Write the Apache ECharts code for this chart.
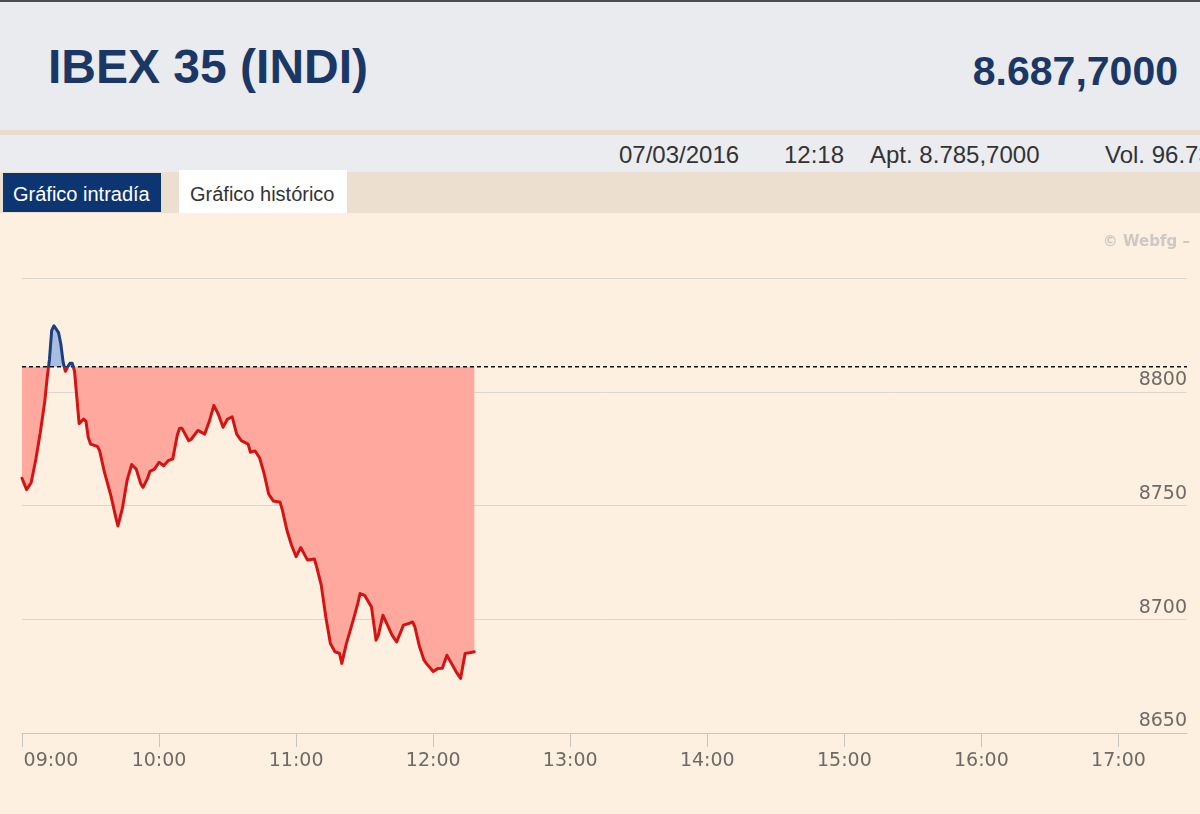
<!DOCTYPE html>
<html>
<head>
<meta charset="utf-8">
<script src="https://cdn.jsdelivr.net/npm/echarts@6/dist/echarts.min.js"></script>
<style>
  html, body { margin: 0; padding: 0; }
  body { width: 1200px; height: 814px; overflow: hidden; position: relative; font-family: "Liberation Sans", Arial, sans-serif; background: #fdf0e0; }
  .abs { position: absolute; white-space: nowrap; }
  #topline { left: 0; top: 0; width: 1200px; height: 2px; background: #4d4d4d; }
  #header { left: 0; top: 2px; width: 1200px; height: 128px; background: #e9ebee; }
  #stripe { left: 0; top: 130px; width: 1200px; height: 5px; background: #eadccd; }
  #inforow { left: 0; top: 135px; width: 1200px; height: 37px; background: #eaecef; overflow: hidden; }
  #tabbar { left: 0; top: 172px; width: 1200px; height: 41px; background: #ecdfcf; }
  #title { left: 48px; top: 41px; font-size: 48px; line-height: 48px; font-weight: bold; color: #1b3766; }
  #price { right: 22px; top: 45px; font-size: 41px; line-height: 48px; font-weight: bold; color: #1b3766; }
  .info { top: 8px; font-size: 24px; line-height: 24px; color: #333; }
  #tab1 { left: 3px; top: 1px; width: 158px; height: 39px; background: #0d3572; }
  #tab2 { left: 179px; top: -2px; width: 168px; height: 43px; background: #ffffff; }
  .tabtxt { top: 9px; font-size: 20px; line-height: 22px; }
  #chart { left: 0; top: 213px; width: 1200px; height: 601px; }
</style>
</head>
<body>
<div id="topline" class="abs"></div>
<div id="header" class="abs">
  <div id="title" class="abs">IBEX 35 (INDI)</div>
  <div id="price" class="abs">8.687,7000</div>
</div>
<div id="stripe" class="abs"></div>
<div id="inforow" class="abs">
  <div class="abs info" style="left:619px">07/03/2016</div>
  <div class="abs info" style="left:784px">12:18</div>
  <div class="abs info" style="left:870px">Apt. 8.785,7000</div>
  <div class="abs info" style="left:1105px">Vol. 96.73</div>
</div>
<div id="tabbar" class="abs">
  <div id="tab1" class="abs"><div class="abs tabtxt" style="left:10px;top:10px;color:#ffffff">Gráfico intradía</div></div>
  <div id="tab2" class="abs"><div class="abs tabtxt" style="left:11px;top:13px;color:#333333">Gráfico histórico</div></div>
</div>
<div id="chart" class="abs"></div>
<script>
// ---- data ----
const times = ["09:00","09:02","09:04","09:06","09:08","09:10","09:11","09:12","09:13","09:14",
  "09:16","09:17","09:18","09:19","09:20","09:21","09:22","09:23","09:24","09:25",
  "09:27","09:28","09:29","09:30","09:33","09:34","09:36","09:39","09:41","09:42",
  "09:44","09:46","09:48","09:50","09:52","09:53","09:55","09:56","09:58","10:00",
  "10:02","10:04","10:06","10:08","10:09","10:10","10:13","10:14","10:17","10:20",
  "10:22","10:24","10:26","10:28","10:30","10:32","10:34","10:36","10:39","10:40",
  "10:42","10:44","10:46","10:48","10:50","10:53","10:54","10:56","10:58","11:00",
  "11:02","11:05","11:08","11:09","11:11","11:13","11:15","11:17","11:19","11:20",
  "11:22","11:25","11:27","11:28","11:30","11:33","11:35","11:36","11:38","11:41",
  "11:42","11:44","11:47","11:49","11:51","11:52","11:54","11:56","11:57","12:00",
  "12:02","12:04","12:06","12:08","12:10","12:12","12:14","12:16","12:18"];
const values = [8762,8757,8760,8770,8782,8796,8806,8814,8827,8829,
  8826,8821,8813,8809,8811,8812.5,8812.5,8809,8797.5,8786,
  8788,8787,8780,8777,8776,8774,8765,8754,8745,8741,
  8749,8761,8768,8766,8759.5,8758,8762,8765,8766,8769,
  8767.5,8769.7,8770.5,8781,8784,8784,8778.5,8779,8783,8781.4,
  8787,8794,8790,8784.4,8788,8789,8781.4,8778.5,8777,8773.4,
  8774,8771,8764,8755,8752,8751.4,8748,8739,8732.5,8727.5,
  8731.5,8726,8726.5,8723,8715,8701,8689.3,8685.7,8685,8680.6,
  8689.3,8699.6,8707,8711.3,8710.5,8705.4,8690.8,8693,8701.8,8695.2,
  8693,8690,8697.4,8698,8698.8,8696.6,8688,8682,8680.6,8677,
  8678.3,8678.5,8684.2,8680.6,8677,8674,8685,8685.3,8685.7];
const previousClose = 8811;
const hourTicks = ["09:00","10:00","11:00","12:00","13:00","14:00","15:00","16:00","17:00"];
const yTicks = [8650, 8700, 8750, 8800, 8850];
const sessionStart = "09:00";
const sessionEnd = "17:30";
const watermark = "\u00A9 Webfg \u2013";

function toMin(t) { const p = t.split(':'); return (+p[0]) * 60 + (+p[1]); }
function fmt(m) { const h = Math.floor(m / 60), mm = m % 60; return (h < 10 ? '0' : '') + h + ':' + (mm < 10 ? '0' : '') + mm; }

const seriesData = times.map((t, i) => [toMin(t), values[i]]);
const baseData = [[toMin(sessionStart), previousClose], [toMin(sessionEnd), previousClose]];
const tickVals = hourTicks.map(toMin);
const FONT = 'DejaVu Sans', FSIZE = 19, LCOLOR = '#6f6a66';

const el = document.getElementById('chart');
const chart = echarts.init(el, null, { renderer: 'canvas' });
chart.setOption({
  backgroundColor: '#fdf0e0',
  animation: false,
  grid: { left: 22, right: 13, top: 65, bottom: 81 },
  graphic: [{
    type: 'text', right: 10, top: 22,
    style: { text: watermark, fill: '#cdc8c3', font: 'bold 15px "DejaVu Sans"' }
  }],
  xAxis: {
    type: 'value', min: toMin(sessionStart), max: toMin(sessionEnd), interval: 60,
    axisLine: { show: true, lineStyle: { color: '#c9c6c2', width: 1 } },
    axisTick: { show: true, customValues: tickVals, length: 14, lineStyle: { color: '#c9c6c2' } },
    splitLine: { show: false },
    axisLabel: {
      customValues: tickVals, margin: 19,
      fontFamily: FONT, fontSize: FSIZE, color: LCOLOR,
      formatter: function (v) { return v === tickVals[0] ? '{l|' + fmt(v) + '}' : fmt(v); },
      rich: { l: { padding: [0, 0, 0, 58], fontFamily: FONT, fontSize: FSIZE, color: LCOLOR } }
    }
  },
  yAxis: {
    type: 'value', position: 'right', min: yTicks[0], max: yTicks[yTicks.length - 1], interval: 50,
    axisLine: { show: false }, axisTick: { show: false },
    splitLine: { show: true, lineStyle: { color: '#dcd6ce', width: 1 } },
    axisLabel: {
      inside: true, margin: 0, verticalAlign: 'bottom', padding: [0, 0, 2, 0],
      showMaxLabel: false, formatter: function (v) { return String(v); },
      fontFamily: FONT, fontSize: FSIZE, color: LCOLOR
    }
  },
  series: [
    { id: 'area', type: 'line', data: seriesData, showSymbol: false, silent: true,
      lineStyle: { width: 0, opacity: 0 },
      areaStyle: { origin: previousClose, opacity: 1, color: '#ffa89e' }, z: 1 },
    { id: 'base', type: 'line', data: baseData, showSymbol: false, silent: true,
      lineStyle: { color: '#111111', type: [4, 3], width: 1.4 }, z: 2 },
    { id: 'line', type: 'line', data: seriesData, showSymbol: false, silent: true,
      lineStyle: { width: 3, color: '#d41313', join: 'round', cap: 'round' }, z: 3 }
  ]
});

// split colours at the previous close: blue above it, red below it
const yPix = chart.convertToPixel({ yAxisIndex: 0 }, previousClose);
const H = el.clientHeight;
const off = yPix / H;
function split(top, bottom) {
  return new echarts.graphic.LinearGradient(0, 0, 0, H, [
    { offset: 0, color: top }, { offset: off, color: top },
    { offset: off, color: bottom }, { offset: 1, color: bottom }
  ], true);
}
chart.setOption({
  series: [
    { id: 'area', areaStyle: { color: split('#a9bde0', '#ffa89e') } },
    { id: 'base' },
    { id: 'line', lineStyle: { color: split('#1d3f7e', '#d41313') } }
  ]
});
</script>
</body>
</html>
